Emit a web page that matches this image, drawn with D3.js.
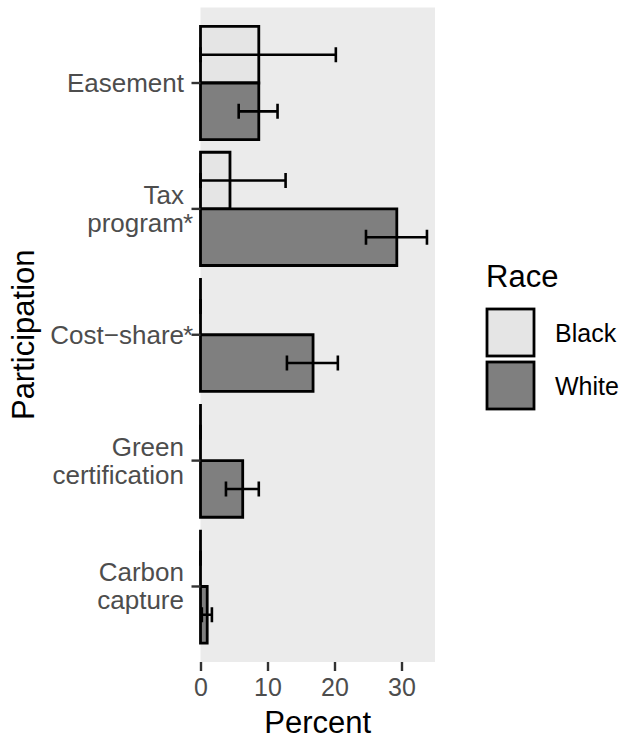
<!DOCTYPE html>
<html>
<head>
<meta charset="utf-8">
<script src="https://cdn.jsdelivr.net/npm/d3@7"></script>
<style>
  html, body { margin: 0; padding: 0; background: #fff; }
  svg { display: block; font-family: "Liberation Sans", Arial, Helvetica, sans-serif; }
</style>
</head>
<body>
<svg id="chart" width="620" height="740"></svg>
<script>
// Participation by program type and race (percent, with confidence intervals)
const categories = ["Easement", "Tax\nprogram*", "Cost\u2212share*", "Green\ncertification", "Carbon\ncapture"];
const races = ["Black", "White"];
const raceFills = ["#E5E5E5", "#7F7F7F"];

const blackPct  = [8.7, 4.4, 0, 0, 0];
const blackLow  = [0, 0, 0, 0, 0];
const blackHigh = [20.2, 12.7, 0, 0, 0];

const whitePct  = [8.7, 29.3, 16.8, 6.3, 1.0];
const whiteLow  = [5.7, 24.7, 12.9, 3.8, 0.2];
const whiteHigh = [11.5, 33.8, 20.5, 8.7, 1.7];

const xTicks = [0, 10, 20, 30];

const rows = [];
categories.forEach((c, i) => {
  rows.push({ cat: c, race: "Black", v: blackPct[i], lo: blackLow[i], hi: blackHigh[i] });
  rows.push({ cat: c, race: "White", v: whitePct[i], lo: whiteLow[i], hi: whiteHigh[i] });
});

const svg = d3.select("#chart");
const panel = { left: 200.5, right: 435, top: 7.5, bottom: 662 };

const x = d3.scaleLinear().domain([0, 35]).range([panel.left, panel.right]);
const y = d3.scaleBand().domain(categories).range([panel.top, panel.bottom])
  .paddingInner(0.1).paddingOuter(0.15);
const yInner = d3.scaleBand().domain(races).range([0, y.bandwidth()]);
const fill = d3.scaleOrdinal().domain(races).range(raceFills);

// panel background
svg.append("rect")
  .attr("x", panel.left).attr("y", panel.top)
  .attr("width", panel.right - panel.left).attr("height", panel.bottom - panel.top)
  .attr("fill", "#EBEBEB");

// bars (paths so zero-length bars still show their outline)
svg.append("g").selectAll("path").data(rows).join("path")
  .attr("d", d => {
    const y0 = y(d.cat) + yInner(d.race);
    const y1 = y0 + yInner.bandwidth();
    const x0 = x(0), x1 = x(d.v);
    return `M${x0},${y0}H${x1}V${y1}H${x0}Z`;
  })
  .attr("fill", d => fill(d.race))
  .attr("stroke", "#000")
  .attr("stroke-width", 2.8)
  .attr("stroke-linejoin", "miter");

// error bars
const capH = 15;
const eb = svg.append("g").attr("stroke", "#000").attr("stroke-width", 2.6).attr("fill", "none");
rows.forEach(d => {
  const cy = y(d.cat) + yInner(d.race) + yInner.bandwidth() / 2;
  eb.append("path").attr("d",
    `M${x(d.lo)},${cy}H${x(d.hi)}` +
    `M${x(d.lo)},${cy - capH / 2}V${cy + capH / 2}` +
    `M${x(d.hi)},${cy - capH / 2}V${cy + capH / 2}`);
});

// x axis
const xAxis = svg.append("g")
  .attr("transform", `translate(0,${panel.bottom})`)
  .call(d3.axisBottom(x).tickValues(xTicks).tickSize(9).tickPadding(6).tickFormat(d3.format("d")));
xAxis.select(".domain").remove();
xAxis.selectAll(".tick line").attr("stroke", "#333333").attr("stroke-width", 2.4);
xAxis.selectAll(".tick text")
  .attr("fill", "#4D4D4D").attr("font-size", 25)
  .attr("font-family", "'Liberation Sans', Arial, sans-serif")
  .attr("dy", null).attr("y", 34);

// y axis
const yAxis = svg.append("g")
  .attr("transform", `translate(${panel.left},0)`)
  .call(d3.axisLeft(y).tickSize(9).tickFormat(""));
yAxis.select(".domain").remove();
yAxis.selectAll(".tick line").attr("stroke", "#333333").attr("stroke-width", 2.4);

const labelX = 184;
const lineGap = 28;
const yLabels = svg.append("g")
  .attr("fill", "#4D4D4D").attr("font-size", 26);
categories.forEach(c => {
  const cy = y(c) + y.bandwidth() / 2;
  const starred = c.endsWith("*");
  const lines = (starred ? c.slice(0, -1) : c).split("\n");
  const first = cy + 9 - (lines.length - 1) * lineGap / 2;
  lines.forEach((ln, j) => {
    yLabels.append("text")
      .attr("x", labelX).attr("y", first + j * lineGap)
      .attr("text-anchor", "end").text(ln);
  });
  if (starred) {
    yLabels.append("text")
      .attr("x", labelX - 1).attr("y", first + (lines.length - 1) * lineGap)
      .attr("text-anchor", "start").text("*");
  }
});

// axis titles
svg.append("text")
  .attr("x", (panel.left + panel.right) / 2).attr("y", 733)
  .attr("text-anchor", "middle").attr("font-size", 31).attr("fill", "#000")
  .text("Percent");
svg.append("text")
  .attr("transform", `translate(34,${(panel.top + panel.bottom) / 2}) rotate(-90)`)
  .attr("text-anchor", "middle").attr("font-size", 31).attr("fill", "#000")
  .text("Participation");

// legend
const lg = svg.append("g");
lg.append("text").attr("x", 486).attr("y", 287)
  .attr("font-size", 31).attr("fill", "#000").text("Race");
const keySize = 47;
races.forEach((r, i) => {
  const ky = 309 + i * 53;
  lg.append("rect")
    .attr("x", 487).attr("y", ky).attr("width", keySize).attr("height", keySize)
    .attr("fill", fill(r)).attr("stroke", "#000").attr("stroke-width", 2.8);
  lg.append("text").attr("x", 555).attr("y", ky + keySize / 2 + 9)
    .attr("font-size", 25).attr("fill", "#000").text(r);
});
</script>
</body>
</html>
